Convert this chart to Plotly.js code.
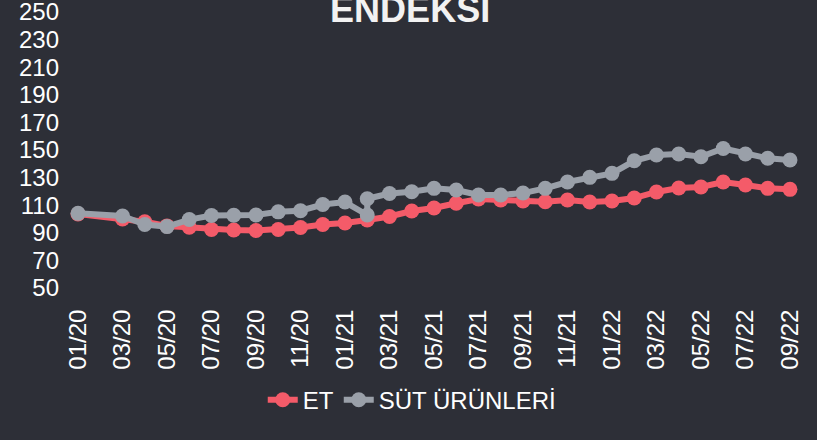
<!DOCTYPE html>
<html>
<head>
<meta charset="utf-8">
<script src="https://cdn.plot.ly/plotly-3.0.1.min.js"></script>
<style>
html,body{margin:0;padding:0;background:#2d2f37;}
#chart{width:817px;height:440px;}
</style>
</head>
<body>
<div id="chart"></div>
<script>
// Categories (monthly)
var months = ["01/20","02/20","03/20","04/20","05/20","06/20","07/20","08/20","09/20","10/20","11/20","12/20",
              "01/21","02/21","03/21","04/21","05/21","06/21","07/21","08/21","09/21","10/21","11/21","12/21",
              "01/22","02/22","03/22","04/22","05/22","06/22","07/22","08/22","09/22"];
// ET (meat) index values
var etValues = [103.6,null,100.0,98.0,95.0,94.0,92.4,92.0,91.7,92.4,93.8,96.0,
                97.1,99.3,101.8,105.8,108.0,111.4,114.5,113.8,113.0,112.5,113.8,112.3,
                113.0,115.2,119.6,122.5,123.2,126.8,124.6,122.2,121.5];
// SÜT ÜRÜNLERİ (dairy) months as they appear in the source series
var dairyMonths = ["01/20","03/20","04/20","05/20","06/20","07/20","08/20","09/20","10/20","11/20","12/20",
                   "01/21","02/21","02/21","03/21","04/21","05/21","06/21","07/21","08/21","09/21","10/21","11/21","12/21",
                   "01/22","02/22","03/22","04/22","05/22","06/22","07/22","08/22","09/22"];
var dairyValues = [104.1,102.2,96.0,94.5,99.6,102.5,102.7,102.9,105.2,106.0,110.5,
                   112.3,102.9,114.7,118.5,119.7,122.2,121.0,117.4,117.4,118.8,122.2,126.8,130.2,
                   133.1,142.2,146.4,147.1,145.1,151.1,147.1,144.0,142.8];
// Tick labels
var xTickLabels = ["01/20","03/20","05/20","07/20","09/20","11/20","01/21","03/21","05/21","07/21","09/21","11/21","01/22","03/22","05/22","07/22","09/22"];
var yTickValues = [50,70,90,110,130,150,170,190,210,230,250];

var redC = "#f45b69", grayC = "#9aa0a9", bg = "#2d2f37";

var traces = [
  {x: months, y: etValues, name: "ET", type: "scatter", mode: "lines+markers", connectgaps: true,
   line: {color: redC, width: 6}, marker: {color: redC, size: 15}},
  {x: dairyMonths, y: dairyValues, name: "SÜT ÜRÜNLERİ", type: "scatter", mode: "lines+markers",
   line: {color: grayC, width: 6}, marker: {color: grayC, size: 15}}
];

var layout = {
  width: 817, height: 440,
  paper_bgcolor: bg, plot_bgcolor: bg,
  font: {family: "Liberation Sans, Arial, sans-serif", color: "#ffffff", size: 22},
  margin: {l: 60, r: 7, t: 11, b: 151, pad: 0},
  showlegend: true,
  title: {text: "<b>ENDEKSİ</b>", font: {size: 36, color: "#f2f2f2"}, xref: "container", yref: "container",
          x: 0.502, xanchor: "center", y: 0.978, yanchor: "middle"},
  xaxis: {type: "category", categoryorder: "array", categoryarray: months,
          range: [-0.81, 32.9], tickmode: "array", tickvals: xTickLabels, ticktext: xTickLabels,
          tickangle: -90, showgrid: false, zeroline: false, showline: false, ticks: "outside", ticklen: 10,
          tickcolor: "rgba(0,0,0,0)",
          tickfont: {size: 24, color: "#ffffff"}, automargin: false, fixedrange: true},
  yaxis: {range: [49.3, 250.7], tickmode: "array", tickvals: yTickValues, showgrid: false, zeroline: false,
          showline: false, ticks: "", ticklabeloverflow: "allow",
          tickfont: {size: 24, color: "#ffffff"}, automargin: false, fixedrange: true},
  legend: {orientation: "h", x: 0.469, xanchor: "center", y: -0.4, yanchor: "middle",
           font: {size: 24, color: "#ffffff"}, bgcolor: "rgba(0,0,0,0)", itemwidth: 30},
  annotations: [
    {text: "Kaynak:FAO", xref: "container", yref: "container", x: 0.971, xanchor: "right",
     y: 0.032, yanchor: "middle", showarrow: false, font: {size: 13, color: "#ffffff"}}
  ]
};

Plotly.newPlot("chart", traces, layout, {staticPlot: true, displayModeBar: false});
</script>
</body>
</html>
